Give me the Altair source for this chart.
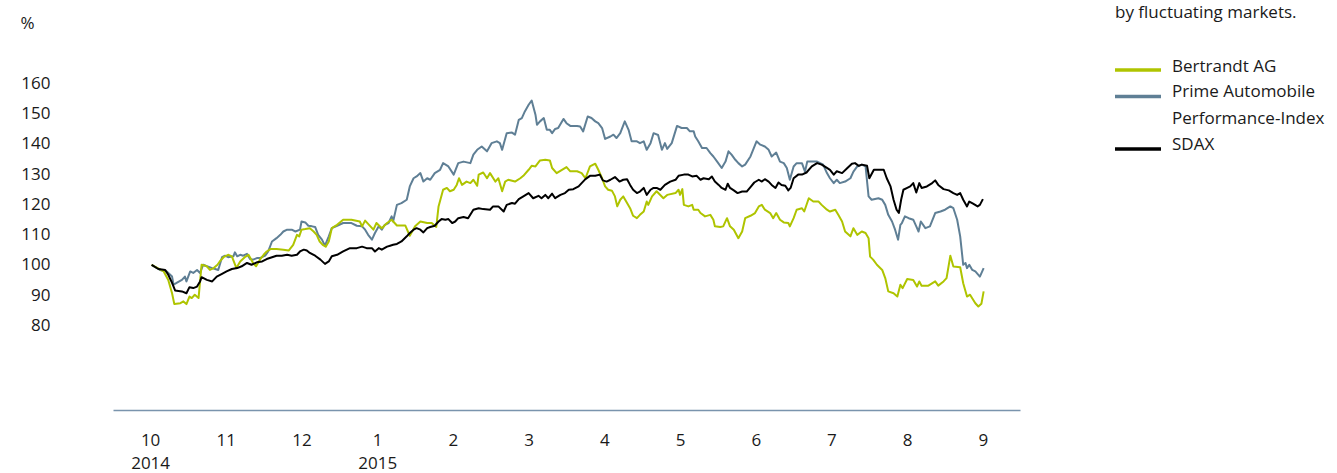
import altair as alt
import pandas as pd

# ---- data (x in months since start of Oct 2014, value in %) ----
bertrandt_t = [0.02, 0.18, 0.24, 0.29, 0.32, 0.40, 0.44, 0.48, 0.52, 0.55, 0.59, 0.64, 0.68, 0.75, 0.79, 0.84,
               0.89, 0.92, 0.97, 1.03, 1.08, 1.14, 1.19, 1.25, 1.30, 1.36, 1.40, 1.45, 1.50, 1.54, 1.59, 1.67,
               1.76, 1.83, 1.89, 1.94, 1.97, 2.00, 2.05, 2.11, 2.16, 2.20, 2.24, 2.28, 2.32, 2.36, 2.40, 2.47,
               2.55, 2.66, 2.77, 2.80, 2.84, 2.91, 2.95, 2.99, 3.06, 3.13, 3.19, 3.26, 3.37, 3.43, 3.50, 3.57,
               3.66, 3.72, 3.78, 3.81, 3.87, 3.92, 3.96, 4.01, 4.05, 4.08, 4.12, 4.18, 4.23, 4.27, 4.32, 4.34,
               4.40, 4.45, 4.49, 4.56, 4.60, 4.65, 4.69, 4.73, 4.82, 4.89, 4.93, 5.00, 5.04, 5.09, 5.15, 5.22,
               5.28, 5.31, 5.37, 5.44, 5.50, 5.55, 5.64, 5.70, 5.75, 5.81, 5.88, 5.92, 5.97, 6.01, 6.05, 6.10,
               6.14, 6.17, 6.21, 6.25, 6.30, 6.34, 6.38, 6.43, 6.47, 6.52, 6.56, 6.58, 6.63, 6.69, 6.78, 6.83,
               6.94, 6.98, 7.00, 7.03, 7.05, 7.11, 7.16, 7.18, 7.24, 7.27, 7.33, 7.40, 7.44, 7.46, 7.53, 7.57,
               7.62, 7.66, 7.71, 7.77, 7.82, 7.86, 7.93, 7.99, 8.04, 8.08, 8.12, 8.19, 8.23, 8.27, 8.32, 8.37,
               8.43, 8.45, 8.50, 8.54, 8.61, 8.64, 8.70, 8.76, 8.83, 8.87, 8.94, 8.98, 9.05, 9.09, 9.14, 9.18,
               9.25, 9.29, 9.34, 9.40, 9.45, 9.49, 9.51, 9.55, 9.60, 9.67, 9.71, 9.75, 9.82, 9.87, 9.91, 9.94,
               10.00, 10.08, 10.13, 10.16, 10.19, 10.28, 10.37, 10.41, 10.48, 10.52, 10.57, 10.61, 10.70, 10.74,
               10.79, 10.83, 10.90, 10.94, 10.98, 11.01]
bertrandt_v = [100.0, 97.8, 95.0, 90.6, 87.0, 87.3, 87.9, 87.0, 89.5, 89.0, 90.1, 89.0, 100.0, 99.5, 98.3, 98.9,
               100.0, 101.1, 102.5, 103.3, 102.8, 98.9, 101.1, 102.5, 103.3, 100.6, 99.5, 101.7, 103.3, 104.4, 105.2, 105.2,
               105.0, 104.7, 106.6, 109.9, 109.4, 111.6, 111.8, 112.1, 111.0, 109.9, 107.7, 106.6, 106.0, 107.7, 112.1, 113.2,
               114.9, 114.9, 114.3, 112.7, 114.6, 112.7, 111.6, 113.8, 112.1, 113.8, 114.9, 113.0, 113.0, 109.6, 112.7, 114.3,
               113.8, 113.8, 112.5, 119.3, 124.8, 125.4, 124.3, 124.8, 126.4, 128.6, 126.4, 127.5, 127.0, 128.1, 126.1, 129.8,
               130.5, 128.6, 130.3, 127.5, 128.6, 124.3, 127.5, 128.1, 127.5, 128.6, 129.4, 131.4, 132.7, 132.5, 134.5, 134.7,
               134.5, 132.0, 130.3, 131.4, 132.3, 130.9, 130.9, 130.3, 128.6, 132.5, 133.4, 131.4, 128.6, 125.9, 124.8, 124.5,
               122.6, 119.3, 121.5, 122.6, 120.4, 118.7, 116.2, 115.4, 116.5, 117.6, 120.9, 119.8, 122.6, 124.3, 122.0, 123.1,
               123.7, 124.8, 123.1, 125.0, 119.8, 119.3, 119.8, 118.2, 118.2, 117.1, 116.0, 116.5, 114.9, 112.7, 112.5, 112.7,
               115.4, 112.7, 111.6, 108.8, 111.0, 115.4, 116.2, 117.1, 119.3, 119.8, 118.2, 117.1, 115.4, 117.1, 114.9, 114.0,
               113.8, 112.7, 115.4, 118.2, 118.7, 117.6, 122.0, 120.9, 120.9, 119.8, 118.2, 117.6, 118.2, 116.5, 114.3, 111.0,
               109.4, 112.1, 109.9, 111.0, 110.5, 108.8, 102.7, 101.7, 100.0, 98.3, 95.6, 91.2, 90.6, 89.5, 93.4, 92.3,
               95.3, 95.0, 92.8, 94.5, 93.1, 93.1, 94.5, 93.1, 94.5, 95.6, 103.0, 99.4, 99.2, 93.9,
               89.5, 90.1, 87.3, 86.2, 87.1, 91.2]

prime_t = [0.02, 0.13, 0.22, 0.29, 0.31, 0.35, 0.42, 0.46, 0.48, 0.53, 0.57, 0.62, 0.66, 0.70, 0.75, 0.82,
           0.86, 0.90, 0.95, 0.99, 1.03, 1.10, 1.12, 1.15, 1.19, 1.23, 1.28, 1.32, 1.36, 1.41, 1.45, 1.52,
           1.56, 1.61, 1.67, 1.72, 1.76, 1.81, 1.87, 1.92, 1.98, 2.00, 2.05, 2.09, 2.14, 2.18, 2.22, 2.27,
           2.31, 2.36, 2.40, 2.47, 2.55, 2.66, 2.73, 2.80, 2.84, 2.88, 2.93, 2.97, 3.02, 3.06, 3.10, 3.15,
           3.19, 3.21, 3.26, 3.32, 3.39, 3.43, 3.48, 3.52, 3.57, 3.61, 3.66, 3.70, 3.76, 3.83, 3.87, 3.94,
           4.01, 4.07, 4.14, 4.23, 4.27, 4.32, 4.38, 4.45, 4.51, 4.58, 4.62, 4.65, 4.71, 4.78, 4.82, 4.87,
           4.91, 4.95, 5.00, 5.04, 5.09, 5.11, 5.15, 5.20, 5.24, 5.28, 5.31, 5.35, 5.39, 5.46, 5.50, 5.55,
           5.64, 5.68, 5.72, 5.78, 5.83, 5.88, 5.92, 5.97, 6.01, 6.08, 6.12, 6.16, 6.21, 6.27, 6.32, 6.36,
           6.43, 6.47, 6.52, 6.56, 6.61, 6.65, 6.71, 6.76, 6.80, 6.83, 6.89, 6.96, 7.02, 7.09, 7.13, 7.18,
           7.20, 7.24, 7.29, 7.35, 7.40, 7.44, 7.49, 7.55, 7.60, 7.64, 7.68, 7.73, 7.77, 7.82, 7.86, 7.93,
           8.01, 8.06, 8.12, 8.17, 8.21, 8.27, 8.32, 8.37, 8.41, 8.45, 8.50, 8.54, 8.61, 8.65, 8.68, 8.74,
           8.81, 8.85, 8.89, 8.94, 8.98, 9.03, 9.07, 9.11, 9.18, 9.25, 9.29, 9.34, 9.40, 9.45, 9.49, 9.53,
           9.62, 9.67, 9.71, 9.75, 9.80, 9.84, 9.88, 9.91, 9.93, 9.97, 10.02, 10.08, 10.12, 10.15, 10.18, 10.24,
           10.30, 10.37, 10.44, 10.50, 10.57, 10.61, 10.66, 10.70, 10.74, 10.77, 10.79, 10.82, 10.86, 10.90,
           10.96, 11.01]
prime_v = [100.0, 98.3, 97.8, 96.1, 93.4, 94.0, 95.0, 96.1, 94.5, 97.8, 97.3, 98.3, 97.3, 100.0, 99.5, 98.9,
           98.6, 98.3, 102.5, 103.0, 102.5, 102.8, 104.1, 102.8, 103.3, 103.0, 103.6, 101.9, 101.7, 102.2, 102.2, 103.0,
           104.4, 107.7, 108.8, 109.9, 111.0, 111.6, 111.6, 111.0, 111.6, 114.3, 114.0, 112.9, 112.7, 112.5, 109.9, 108.3,
           106.3, 109.4, 112.1, 112.9, 113.8, 113.8, 112.9, 112.7, 111.6, 109.9, 108.3, 110.5, 112.7, 111.6, 113.2, 113.8,
           116.0, 114.3, 119.8, 120.4, 121.5, 125.9, 128.6, 129.2, 130.3, 127.5, 128.6, 128.1, 130.3, 131.4, 133.6, 132.5,
           129.8, 133.6, 134.1, 133.6, 136.4, 138.0, 139.1, 137.5, 140.2, 140.8, 140.2, 138.0, 143.5, 143.7, 143.0, 147.9,
           148.5, 150.7, 152.9, 154.3, 149.6, 146.3, 147.4, 148.5, 144.6, 144.6, 143.5, 144.9, 145.2, 148.2, 146.8, 145.9,
           145.9, 145.7, 144.1, 149.0, 148.5, 147.4, 146.8, 145.2, 141.6, 142.4, 143.0, 141.9, 143.5, 147.4, 144.6, 140.8,
           140.8, 140.2, 140.8, 138.0, 140.2, 143.5, 142.9, 138.0, 140.2, 138.3, 140.2, 145.9, 145.2, 145.2, 144.1, 144.1,
           142.4, 140.8, 138.6, 138.6, 136.9, 135.8, 134.1, 132.0, 134.1, 137.5, 136.4, 134.7, 133.6, 132.5, 133.1, 135.8,
           140.8, 139.7, 139.1, 138.0, 135.8, 137.1, 134.1, 133.6, 132.0, 128.1, 132.5, 133.6, 133.6, 130.8, 134.1, 134.1,
           134.1, 133.6, 133.1, 130.3, 128.6, 127.0, 128.1, 127.0, 127.5, 128.6, 130.8, 132.5, 133.1, 132.5, 122.6, 121.5,
           122.0, 121.5, 119.8, 116.5, 114.3, 111.6, 108.3, 113.2, 113.8, 116.0, 115.4, 114.9, 112.7, 111.0, 114.3, 112.1,
           112.7, 117.1, 117.6, 118.2, 119.3, 118.7, 114.9, 109.4, 100.0, 100.6, 98.9, 100.0, 98.3, 97.8,
           96.1, 98.9]

sdax_t = [0.02, 0.11, 0.20, 0.24, 0.29, 0.33, 0.42, 0.48, 0.52, 0.57, 0.62, 0.66, 0.68, 0.75, 0.82, 0.88,
          0.95, 1.01, 1.08, 1.15, 1.21, 1.28, 1.34, 1.41, 1.48, 1.54, 1.61, 1.67, 1.74, 1.81, 1.87, 1.94,
          1.98, 2.03, 2.07, 2.11, 2.18, 2.25, 2.31, 2.36, 2.40, 2.47, 2.55, 2.64, 2.73, 2.80, 2.86, 2.93,
          2.97, 3.02, 3.06, 3.13, 3.17, 3.21, 3.26, 3.32, 3.39, 3.43, 3.48, 3.52, 3.57, 3.61, 3.66, 3.70,
          3.76, 3.81, 3.85, 3.90, 3.94, 3.99, 4.03, 4.07, 4.14, 4.20, 4.27, 4.34, 4.40, 4.49, 4.53, 4.60,
          4.67, 4.71, 4.78, 4.82, 4.87, 4.93, 5.00, 5.06, 5.13, 5.17, 5.22, 5.26, 5.31, 5.35, 5.42, 5.48,
          5.53, 5.59, 5.66, 5.70, 5.75, 5.81, 5.88, 5.94, 5.98, 6.03, 6.08, 6.14, 6.20, 6.25, 6.30, 6.34,
          6.38, 6.43, 6.47, 6.52, 6.56, 6.61, 6.65, 6.69, 6.74, 6.80, 6.87, 6.94, 6.98, 7.05, 7.11, 7.16,
          7.22, 7.27, 7.31, 7.38, 7.42, 7.46, 7.51, 7.55, 7.60, 7.63, 7.66, 7.71, 7.76, 7.82, 7.88, 7.93,
          7.98, 8.04, 8.08, 8.12, 8.17, 8.21, 8.26, 8.30, 8.34, 8.39, 8.43, 8.46, 8.50, 8.56, 8.61, 8.67,
          8.74, 8.81, 8.87, 8.94, 8.98, 9.03, 9.07, 9.14, 9.21, 9.27, 9.31, 9.36, 9.40, 9.47, 9.50, 9.56,
          9.62, 9.69, 9.73, 9.78, 9.82, 9.86, 9.89, 9.92, 9.95, 10.00, 10.04, 10.08, 10.12, 10.16, 10.19, 10.26,
          10.33, 10.37, 10.41, 10.48, 10.55, 10.61, 10.66, 10.70, 10.74, 10.79, 10.82, 10.87, 10.93, 10.96,
          11.00]
sdax_v = [100.0, 98.6, 98.3, 96.7, 94.0, 91.5, 91.2, 90.6, 92.6, 92.3, 92.8, 94.5, 95.9, 95.0, 94.5, 96.1,
          97.0, 97.8, 98.6, 98.9, 99.5, 100.6, 100.0, 100.8, 101.1, 101.9, 102.5, 103.0, 103.0, 103.3, 103.0, 103.3,
          104.4, 105.0, 104.7, 103.9, 103.0, 101.7, 100.3, 101.1, 102.8, 103.3, 104.4, 105.5, 105.5, 106.0, 105.5, 105.5,
          104.4, 105.5, 105.0, 106.0, 106.3, 106.6, 106.9, 107.7, 109.4, 110.5, 111.6, 112.1, 111.6, 110.7, 112.1, 112.5,
          112.9, 114.3, 115.1, 114.9, 115.1, 113.8, 114.3, 115.4, 115.8, 115.4, 118.2, 118.7, 118.4, 118.2, 119.3, 119.3,
          117.6, 119.8, 120.4, 120.2, 121.7, 122.6, 123.7, 122.0, 122.8, 122.0, 123.1, 122.0, 123.5, 122.0, 123.1, 123.7,
          124.8, 125.0, 125.9, 127.0, 128.3, 129.4, 129.4, 129.8, 127.9, 127.5, 128.1, 129.0, 127.5, 128.1, 128.3, 126.4,
          124.8, 123.7, 124.2, 125.4, 123.1, 124.8, 125.4, 125.4, 124.8, 126.4, 127.5, 128.1, 129.4, 129.8, 129.8, 129.2,
          129.4, 128.1, 128.6, 128.3, 129.2, 127.5, 126.4, 125.4, 124.8, 126.8, 125.4, 124.6, 123.7, 124.2, 124.2, 125.7,
          127.2, 128.1, 127.5, 128.3, 127.5, 126.4, 125.4, 127.2, 126.4, 126.1, 124.6, 125.4, 128.6, 129.8, 129.8, 130.5,
          132.5, 133.6, 133.1, 132.0, 131.4, 129.8, 130.9, 130.3, 132.0, 133.4, 133.6, 132.7, 133.1, 132.7, 128.6, 131.4,
          131.4, 131.4, 128.6, 125.9, 121.5, 118.2, 117.1, 121.5, 124.8, 125.4, 125.9, 127.0, 123.9, 127.0, 125.4, 125.9,
          127.0, 127.9, 126.4, 125.0, 124.6, 123.7, 123.1, 123.7, 121.5, 119.3, 120.9, 120.2, 119.3, 119.8,
          121.7]

series_names = ["Prime Automobile Performance-Index", "Bertrandt AG", "SDAX"]
series_colors = ["#5f7f95", "#afc400", "#000000"]

month_labels = ["10", "11", "12", "1", "2", "3", "4", "5", "6", "7", "8", "9"]
year_labels = ["2014", "", "", "2015", "", "", "", "", "", "", "", ""]
y_ticks = [80, 90, 100, 110, 120, 130, 140, 150, 160]

legend_names = ["Bertrandt AG", "Prime Automobile Performance-Index", "SDAX"]
legend_text_lines = [["Bertrandt AG"], ["Prime Automobile", "Performance-Index"], ["SDAX"]]
side_note = "by fluctuating markets."

FONT = "Open Sans"
TEXT_COLOR = "#1a1a1a"
FS = 17

# ---- long table ----
rows = []
for name, ts, vs in [("Bertrandt AG", bertrandt_t, bertrandt_v),
                     ("Prime Automobile Performance-Index", prime_t, prime_v),
                     ("SDAX", sdax_t, sdax_v)]:
    for t, v in zip(ts, vs):
        rows.append({"t": t, "v": v, "series": name})
df = pd.DataFrame(rows)

label_arr = "[" + ",".join(f"['{m}','{y}']" for m, y in zip(month_labels, year_labels)) + "]"

x_enc = alt.X("t:Q",
              scale=alt.Scale(domain=[-0.49, 11.49], nice=False, zero=False),
              axis=alt.Axis(values=list(range(len(month_labels))), labelExpr=f"{label_arr}[datum.value]",
                            grid=False, ticks=False, domainColor="#7a94ad", domainWidth=1.5,
                            labelPadding=22, labelFont=FONT, labelFontSize=FS, labelColor=TEXT_COLOR,
                            labelLineHeight=23.5, labelAngle=0, labelAlign="center", labelBaseline="top",
                            labelOverlap=False, labelFlush=False, title=None))
y_enc = alt.Y("v:Q",
              scale=alt.Scale(domain=[52, 170], nice=False, zero=False),
              axis=alt.Axis(values=y_ticks, grid=False, ticks=False, domain=False,
                            labelPadding=63, labelFont=FONT, labelFontSize=FS, labelColor=TEXT_COLOR,
                            title="%", titleAngle=0, titleAlign="left", titleBaseline="middle",
                            titleX=-93, titleY=-30, titleFont=FONT, titleFontSize=FS,
                            titleFontWeight="normal", titleColor=TEXT_COLOR))
color_enc = alt.Color("series:N", scale=alt.Scale(domain=series_names, range=series_colors), legend=None)

layers = []
for name in series_names:
    layers.append(
        alt.Chart(df).transform_filter(alt.datum.series == name)
        .mark_line(strokeWidth=2, strokeJoin="round")
        .encode(x=x_enc, y=y_enc, color=color_enc)
    )

# ---- manual legend (plot-relative pixel layout) ----
LEG_X0, LEG_X1, LEG_TX = 1002, 1048, 1059
row_y_text = [13.7, 39.0, 65.5, 92.0]
row_y_line = [17.0, 43.5, 96.0]
color_of = dict(zip(series_names, series_colors))
line_idx = 0
for i, name in enumerate(legend_names):
    layers.append(
        alt.Chart(pd.DataFrame({"series": [name]})).mark_rule(strokeWidth=3.5, color=color_of[name])
        .encode(x=alt.value(LEG_X0), x2=alt.value(LEG_X1), y=alt.value(row_y_line[i]))
    )
    for txt in legend_text_lines[i]:
        layers.append(
            alt.Chart(pd.DataFrame({"label": [txt]})).mark_text(
                align="left", baseline="middle", font=FONT, fontSize=FS, color=TEXT_COLOR)
            .encode(text="label:N", x=alt.value(LEG_TX), y=alt.value(row_y_text[line_idx]))
        )
        line_idx += 1

layers.append(
    alt.Chart(pd.DataFrame({"label": [side_note]})).mark_text(
        align="left", baseline="alphabetic", font=FONT, fontSize=FS, color=TEXT_COLOR)
    .encode(text="label:N", x=alt.value(1002), y=alt.value(-35))
)

chart = alt.layer(*layers).properties(
    width=907, height=357,
    padding={"left": 113, "top": 53, "right": 317, "bottom": 63},
    autosize=alt.AutoSizeParams(type="none"),
    background="white",
).configure_view(stroke=None)

chart.save("out.html", embed_options={"renderer": "svg", "actions": False})
